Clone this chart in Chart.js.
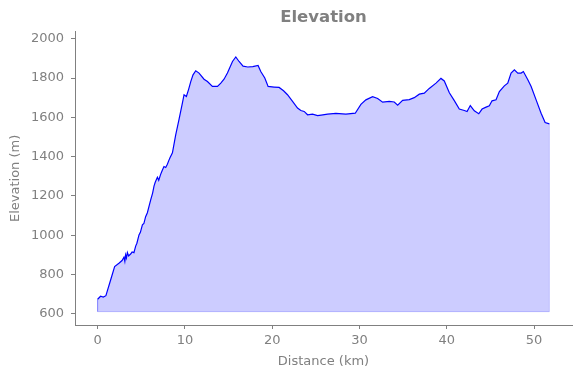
<!DOCTYPE html>
<html>
<head>
<meta charset="utf-8">
<script src="https://cdn.jsdelivr.net/npm/chart.js@4/dist/chart.umd.min.js"></script>
<style>
html,body{margin:0;padding:0;background:#fff;}
#wrap{width:580px;height:378px;}
</style>
</head>
<body>
<div id="wrap"><canvas id="c" width="580" height="378"></canvas></div>
<script>
// Distance along the route (km)
const DIST = [
  0,0.34,0.65,0.95,1.49,1.95,2.44,2.8,3.02,3.12,
  3.21,3.3,3.41,3.55,3.78,3.95,4.16,4.36,4.5,4.74,
  4.9,5.13,5.3,5.5,5.7,5.88,6.08,6.3,6.46,6.6,
  6.85,7.0,7.22,7.4,7.6,7.8,7.99,8.15,8.29,8.57,
  8.94,9.32,9.71,9.90,10.17,10.44,10.67,10.93,11.24,11.62,
  12.19,12.58,13.15,13.73,14.11,14.48,14.87,15.45,15.83,16.20,
  16.66,17.20,17.78,18.38,18.69,19.15,19.53,20.22,20.79,21.30,
  21.75,22.33,22.90,23.28,23.66,24.05,24.62,25.20,25.80,26.34,
  27.29,28.44,29.51,30.16,30.73,31.50,32.08,32.65,33.41,33.98,
  34.37,34.94,35.70,36.27,36.85,37.42,37.99,38.76,39.33,39.71,
  40.29,40.86,41.43,42.01,42.32,42.69,43.15,43.66,44.04,44.50,
  44.87,45.18,45.64,46.02,46.59,46.98,47.36,47.74,48.13,48.51,
  48.77,49.28,49.66,50.23,50.80,51.26,51.75
];
// Elevation (m)
const ELEV = [
  675,690,686,693,773,841,858,872,889,868,
  900,885,912,895,905,915,912,945,960,1002,
  1015,1053,1060,1095,1115,1146,1180,1215,1250,1270,
  1295,1280,1310,1330,1350,1345,1362,1380,1395,1420,
  1510,1588,1672,1715,1706,1745,1782,1816,1837,1825,
  1794,1782,1757,1757,1774,1794,1825,1884,1907,1884,
  1860,1856,1858,1864,1833,1800,1757,1754,1752,1735,
  1715,1681,1647,1635,1630,1613,1616,1609,1613,1616,
  1620,1616,1621,1666,1689,1705,1696,1677,1681,1678,
  1662,1686,1690,1700,1718,1723,1747,1774,1798,1785,
  1725,1685,1642,1635,1630,1660,1633,1618,1642,1652,
  1659,1684,1689,1731,1760,1774,1825,1842,1825,1825,
  1833,1791,1757,1689,1621,1574,1567
];
const FILL_BASE = 612;
const X_TICKS = [0,10,20,30,40,50];
const Y_TICKS = [600,800,1000,1200,1400,1600,1800,2000];
const X_MIN = -2.59, X_MAX = 54.34;
const Y_MIN = 544, Y_MAX = 2035;

const GRAY = '#808080';
const FONT = "'DejaVu Sans', sans-serif";

const profile = DIST.map((d,i)=>({x:d, y:ELEV[i]}));
const last = DIST.length-1;
const edge = [
  {x:DIST[0], y:ELEV[0]},
  {x:DIST[0], y:FILL_BASE},
  {x:DIST[last], y:FILL_BASE},
  {x:DIST[last], y:ELEV[last]}
];

new Chart(document.getElementById('c'), {
  type: 'line',
  data: {
    datasets: [
      {
        data: profile,
        borderColor: '#0000ff',
        borderWidth: 1.2,
        backgroundColor: 'rgba(0,0,255,0.2)',
        fill: {value: FILL_BASE},
        pointRadius: 0,
        tension: 0,
        order: 0
      },
      {
        data: edge,
        borderColor: 'rgba(0,0,255,0.2)',
        borderWidth: 1,
        fill: false,
        pointRadius: 0,
        tension: 0,
        order: 1
      }
    ]
  },
  options: {
    responsive: false,
    animation: false,
    events: [],
    layout: {padding: {left: 0, right: 8, top: 0, bottom: 0}},
    plugins: {
      legend: {display: false},
      tooltip: {enabled: false},
      title: {
        display: true,
        text: 'Elevation',
        color: GRAY,
        fullSize: false,
        font: {family: FONT, size: 16.5, weight: 'bold', lineHeight: 1.2},
        padding: {top: 8, bottom: 4}
      }
    },
    scales: {
      x: {
        type: 'linear',
        min: X_MIN, max: X_MAX,
        afterBuildTicks: s => { s.ticks = X_TICKS.map(v=>({value:v})); },
        afterFit: s => { s.height = 53; },
        grid: {display: true, drawOnChartArea: false, drawTicks: true, tickLength: 4, color: GRAY},
        border: {display: true, color: GRAY, width: 1},
        ticks: {color: GRAY, font: {family: FONT, size: 13}, padding: 4, maxRotation: 0, callback: v => String(v)},
        title: {display: true, text: 'Distance (km)', color: GRAY, font: {family: FONT, size: 13}, padding: {top: 2, bottom: 9}}
      },
      y: {
        type: 'linear',
        min: Y_MIN, max: Y_MAX,
        afterBuildTicks: s => { s.ticks = Y_TICKS.map(v=>({value:v})); },
        afterFit: s => { s.width = 75; },
        grid: {display: true, drawOnChartArea: false, drawTicks: true, tickLength: 4, color: GRAY},
        border: {display: true, color: GRAY, width: 1},
        ticks: {color: GRAY, font: {family: FONT, size: 13}, padding: 7, callback: v => String(v)},
        title: {display: true, text: 'Elevation (m)', color: GRAY, font: {family: FONT, size: 13}, padding: 8}
      }
    }
  }
});
</script>
</body>
</html>
